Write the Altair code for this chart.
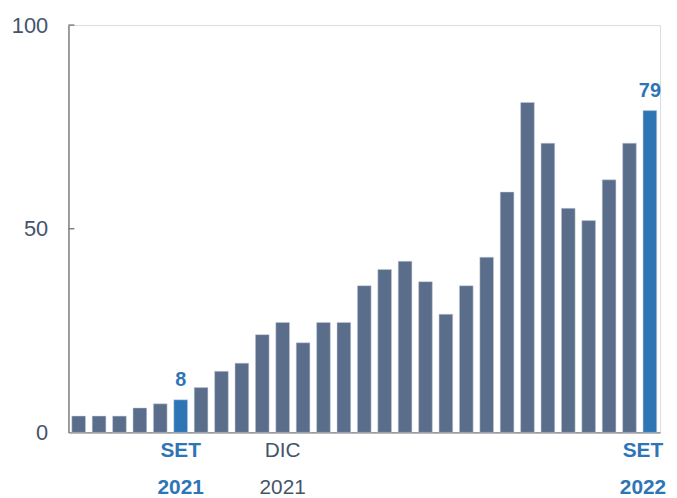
import altair as alt
import pandas as pd

values = [4, 4, 4, 6, 7, 8, 11, 15, 17, 24, 27, 22, 27, 27, 36,
          40, 42, 37, 29, 36, 43, 59, 81, 71, 55, 52, 62, 71, 79]
month_labels = [""] * 29
year_labels = [""] * 29
month_labels[5], year_labels[5] = "SET", "2021"
month_labels[10], year_labels[10] = "DIC", "2021"
month_labels[28], year_labels[28] = "SET", "2022"
highlight_idx = [5, 28]
y_ticks = [50, 100]

n = len(values)
df = pd.DataFrame({
    "idx": list(range(n)),
    "value": values,
    "month": month_labels,
    "year": year_labels,
    "hl": [i in highlight_idx for i in range(n)],
    "last": [i == n - 1 for i in range(n)],
})

BLUE = "#2e75b6"
SLATE = "#5a6e8c"
DARK = "#44546a"
FONT = "Liberation Sans"
LFS = 21

W, H = 597, 411

x = alt.X("idx:O", scale=alt.Scale(paddingInner=0.33, paddingOuter=0.165),
          axis=alt.Axis(labels=False, ticks=False, title=None, domainColor="#808080",
                        domainWidth=1.5, grid=False))
y = alt.Y("value:Q", scale=alt.Scale(domain=[0, 100], nice=False),
          axis=alt.Axis(values=[0, 50, 100], ticks=False, title=None, grid=False,
                        domainColor="#808080", domainWidth=1.5, labelFontSize=22,
                        labelColor=DARK, labelFont=FONT, labelPadding=21))

base = alt.Chart(df)

bars = base.mark_bar(stroke="#c5cdd9", strokeWidth=0.5).encode(
    x=x, y=y,
    color=alt.condition("datum.hl", alt.value(BLUE), alt.value(SLATE)),
)

vlabels = base.transform_filter("datum.hl").mark_text(
    baseline="bottom", dy=-10, fontSize=20, fontWeight="bold", color=BLUE, font=FONT
).encode(x=alt.X("idx:O"), y=alt.Y("value:Q"), text=alt.Text("value:Q"))


def label_layer(filt, field, ypos, bold, color, dx=0):
    kw = dict(fontSize=LFS, color=color, font=FONT, baseline="middle", dx=dx)
    if bold:
        kw["fontWeight"] = "bold"
    return base.transform_filter(filt).mark_text(**kw).encode(
        x=alt.X("idx:O"), y=alt.value(ypos), text=f"{field}:N")


layers = [
    label_layer("datum.hl && !datum.last && datum.month != ''", "month", H + 19, True, BLUE),
    label_layer("datum.hl && !datum.last && datum.year != ''", "year", H + 56, True, BLUE),
    label_layer("datum.last && datum.month != ''", "month", H + 19, True, BLUE, dx=-7),
    label_layer("datum.last && datum.year != ''", "year", H + 56, True, BLUE, dx=-7),
    label_layer("!datum.hl && datum.month != ''", "month", H + 19, False, DARK),
    label_layer("!datum.hl && datum.year != ''", "year", H + 56, False, DARK),
]

ticks = alt.Chart(pd.DataFrame({"t": y_ticks})).mark_rule(
    color="#808080", strokeWidth=1.5
).encode(y=alt.Y("t:Q"), x=alt.value(0), x2=alt.value(6))

chart = alt.layer(bars, vlabels, *layers, ticks).properties(
    width=W, height=H,
    autosize=alt.AutoSizeParams(type="none"),
    padding={"left": 61, "top": 15, "right": 9, "bottom": 66},
).configure_view(stroke=None).configure(background="white")

chart.save("out.html", embed_options={"renderer": "svg", "actions": False})
